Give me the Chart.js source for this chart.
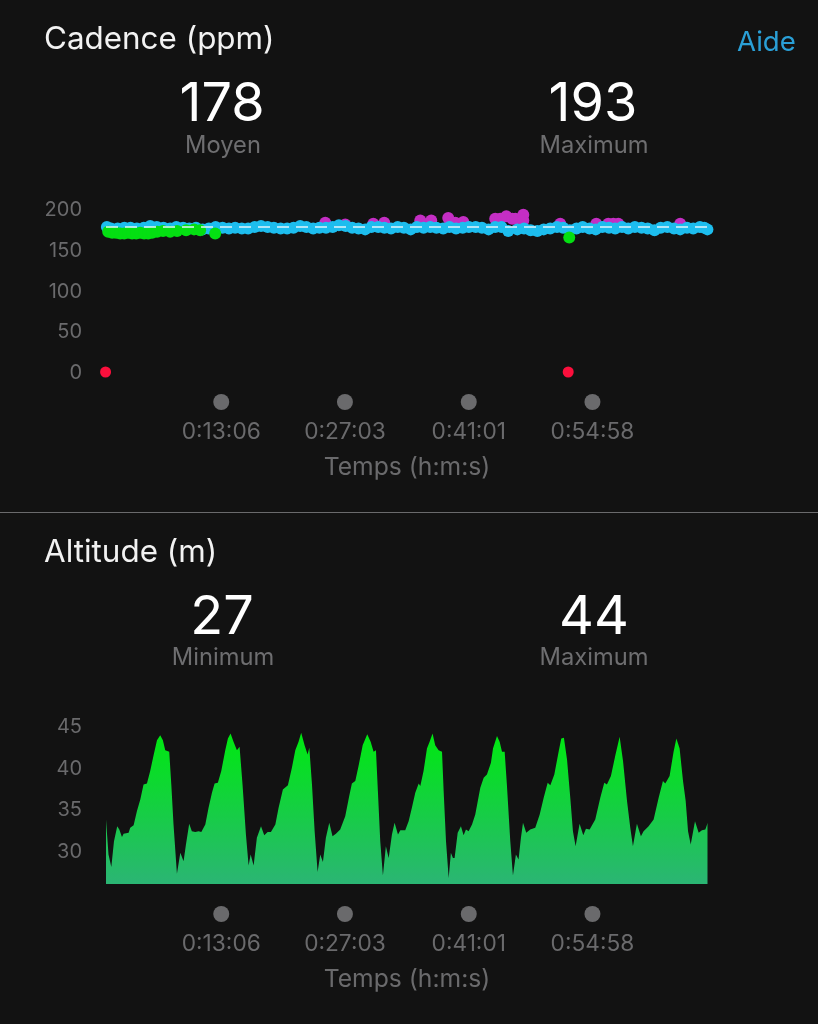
<!DOCTYPE html>
<html>
<head>
<meta charset="utf-8">
<script src="https://cdn.jsdelivr.net/npm/chart.js@4/dist/chart.umd.min.js"></script>
<style>
  html, body { margin: 0; padding: 0; background: #121212; }
  body { position: relative; width: 818px; height: 1024px; overflow: hidden; font-family: Inter, Roboto, sans-serif; }
  canvas { position: absolute; left: 0; }
  #cadence { top: 0; }
  #altitude { top: 513px; }
  #rule { position: absolute; left: 0; top: 512px; width: 818px; height: 1px; background: #6a6a6c; }
  .t { position: absolute; white-space: nowrap; z-index: 2; }
  .title { left: 44px; font-size: 31.4px; color: #f2f2f2; transform: translateY(-50%); }
  .big { font-size: 54px; color: #fff; transform: translate(-50%, -50%); }
  .sub { font-size: 23.7px; color: #6e6e70; transform: translate(-50%, -50%); }
</style>
</head>
<body>
<canvas id="cadence" width="818" height="512"></canvas>
<canvas id="altitude" width="818" height="511"></canvas>
<div id="rule"></div>

<div class="t title" style="top:38px">Cadence (ppm)</div>
<div class="t" style="left:737px;top:41px;font-size:27.6px;color:#2a9fd6;transform:translateY(-50%)">Aide</div>
<div class="t big" style="left:222px;top:101px">178</div>
<div class="t sub" style="left:223px;top:144px">Moyen</div>
<div class="t big" style="left:593px;top:101px">193</div>
<div class="t sub" style="left:594px;top:144px">Maximum</div>

<div class="t title" style="top:551px">Altitude (m)</div>
<div class="t big" style="left:222px;top:614px">27</div>
<div class="t sub" style="left:223px;top:656px">Minimum</div>
<div class="t big" style="left:594px;top:614px">44</div>
<div class="t sub" style="left:594px;top:656px">Maximum</div>

<script>
const timeTicks = [786, 1623, 2461, 3298]
const timeLabels = ['0:13:06', '0:27:03', '0:41:01', '0:54:58']
const cadenceTicks = [0, 50, 100, 150, 200]
const altitudeTicks = [30, 35, 40, 45]
const cadenceAverage = 178

const blueSec = [12, 40, 85, 130, 172, 215, 262, 305, 350, 395, 440, 482, 528, 570, 615, 660, 702, 748, 795, 838, 880, 925, 968, 1012, 1055, 1100, 1142, 1188, 1232, 1275, 1320, 1362, 1408, 1450, 1495, 1540, 1582, 1628, 1672, 1715, 1760, 1802, 1848, 1890, 1935, 1980, 2022, 2068, 2110, 2155, 2200, 2242, 2288, 2330, 2375, 2420, 2462, 2508, 2550, 2595, 2640, 2682, 2728, 2790, 2835, 2880, 2925, 2968, 3012, 3058, 3100, 3145, 3190, 3232, 3278, 3320, 3365, 3410, 3452, 3498, 3540, 3585, 3630, 3672, 3718, 3760, 3805, 3850, 3892, 3938, 3980, 4025, 4055, 4076]
const blueVal = [178, 176, 176, 177, 177, 176, 177, 179, 178, 177, 176, 178, 177, 176, 177, 175, 176, 178, 177, 176, 177, 176, 176, 178, 179, 178, 177, 176, 176, 177, 179, 178, 176, 177, 177, 178, 180, 179, 177, 176, 175, 178, 178, 177, 176, 178, 177, 175, 178, 177, 178, 177, 176, 178, 176, 177, 178, 178, 177, 175, 178, 178, 173, 175, 176, 174, 173, 175, 176, 178, 177, 174, 176, 178, 176, 175, 178, 177, 176, 178, 176, 178, 177, 176, 174, 177, 178, 176, 175, 177, 176, 178, 177, 175]

const purpleSec = [1490, 1625, 1815, 1889, 2133, 2207, 2322, 2370, 2424, 2640, 2674, 2715, 2755, 2776, 2830, 2830, 3080, 3324, 3405, 3439, 3473, 3892]
const purpleVal = [183, 181, 182, 183, 186, 186, 189, 183, 184, 188, 188, 191, 188, 188, 193, 186, 182, 182, 182, 182, 182, 182]

const greenSec = [21, 48, 75, 102, 129, 156, 183, 210, 237, 264, 291, 318, 352, 392, 440, 487, 548, 602, 643, 745, 3141]
const greenVal = [172, 171, 171, 170, 170, 171, 170, 170, 171, 170, 170, 171, 172, 173, 172, 173, 174, 175, 174, 170, 165]

const redSec = [3, 3134]
const redVal = [0, 0]

const altitudeSec = [6, 23, 42, 60, 82, 96, 114, 125, 159, 170, 193, 215, 238, 260, 283, 305, 328, 351, 373, 391, 407, 434, 448, 463, 486, 509, 531, 547, 569, 587, 610, 633, 651, 678, 700, 723, 741, 763, 786, 813, 831, 849, 869, 892, 910, 930, 953, 971, 985, 1005, 1027, 1055, 1077, 1100, 1122, 1152, 1174, 1203, 1237, 1264, 1287, 1309, 1327, 1350, 1370, 1382, 1400, 1418, 1438, 1456, 1474, 1494, 1517, 1539, 1562, 1591, 1625, 1652, 1670, 1693, 1715, 1743, 1774, 1797, 1817, 1833, 1846, 1862, 1880, 1900, 1919, 1941, 1959, 1982, 1998, 2031, 2054, 2076, 2099, 2122, 2133, 2155, 2178, 2196, 2216, 2234, 2257, 2280, 2291, 2307, 2325, 2340, 2354, 2365, 2386, 2408, 2426, 2442, 2460, 2483, 2505, 2539, 2562, 2584, 2611, 2625, 2652, 2670, 2686, 2704, 2719, 2742, 2760, 2780, 2798, 2814, 2828, 2850, 2877, 2911, 2941, 2968, 2995, 3013, 3040, 3069, 3087, 3105, 3126, 3148, 3166, 3184, 3211, 3236, 3254, 3279, 3317, 3351, 3378, 3396, 3423, 3453, 3482, 3505, 3532, 3554, 3572, 3599, 3626, 3644, 3678, 3712, 3746, 3775, 3791, 3820, 3847, 3866, 3888, 3911, 3929, 3945, 3963, 3992, 4017, 4039, 4062, 4078]
const altitudeVal = [33.8, 29.6, 28.1, 31.2, 33.0, 32.6, 31.7, 32.1, 32.2, 32.8, 33.1, 34.8, 36.2, 38.0, 38.1, 39.6, 41.5, 43.3, 43.9, 43.3, 42.1, 41.9, 38.0, 33.2, 27.3, 29.8, 28.8, 30.8, 33.3, 32.4, 32.3, 32.4, 32.3, 33.2, 35.2, 37.0, 38.1, 38.2, 39.6, 42.1, 43.5, 44.1, 43.1, 42.1, 42.5, 38.0, 32.0, 28.3, 29.6, 28.3, 31.6, 33.0, 31.9, 32.3, 32.3, 33.2, 35.2, 37.4, 37.9, 40.0, 42.1, 43.1, 44.2, 42.7, 41.6, 42.4, 38.0, 32.4, 27.5, 29.6, 28.7, 31.6, 33.4, 31.8, 32.1, 32.6, 34.2, 36.6, 38.1, 38.4, 40.2, 42.7, 44.0, 43.1, 41.9, 42.1, 37.2, 31.2, 27.1, 30.6, 29.2, 32.0, 33.4, 32.0, 32.5, 32.5, 33.6, 35.2, 37.0, 38.1, 37.8, 39.6, 42.3, 43.1, 44.1, 42.7, 42.1, 41.9, 37.2, 31.2, 26.8, 29.8, 29.2, 29.2, 32.2, 33.0, 31.9, 32.6, 32.4, 33.2, 34.4, 37.6, 38.8, 39.2, 40.6, 42.3, 43.8, 43.1, 41.9, 41.9, 38.0, 31.2, 27.1, 29.6, 29.0, 31.6, 33.4, 32.2, 32.6, 32.8, 34.4, 36.4, 38.2, 37.9, 39.2, 41.9, 43.5, 43.6, 41.0, 36.4, 32.4, 30.6, 33.3, 31.9, 32.7, 32.6, 33.8, 36.4, 38.2, 38.0, 39.0, 41.5, 43.7, 40.8, 36.0, 32.8, 30.6, 33.3, 31.8, 32.4, 33.0, 33.8, 36.4, 38.4, 38.1, 39.0, 41.9, 43.5, 42.3, 38.4, 36.0, 32.4, 30.8, 33.6, 32.2, 32.5, 32.6, 33.4]

const zip = (xs, ys) => xs.map((x, i) => ({ x: x, y: ys[i] }))
const tickColor = '#6a6a6c'

// grey dots under the axis, one per time tick
const tickDots = {
  id: 'tickDots',
  afterDraw(chart) {
    const c = chart.ctx
    const y = chart.chartArea.bottom + 30
    c.save()
    c.fillStyle = '#6a6a6c'
    timeTicks.forEach(v => {
      c.beginPath()
      c.arc(chart.scales.x.getPixelForValue(v), y, 8, 0, Math.PI * 2)
      c.fill()
    })
    c.restore()
  }
}

function xAxis() {
  return {
    type: 'linear',
    min: 6,
    max: 4080,
    grid: { display: false, drawTicks: false },
    border: { display: false },
    afterBuildTicks: s => { s.ticks = timeTicks.map(v => ({ value: v })) },
    afterFit: s => { s.height = 140 },
    ticks: {
      autoSkip: false,
      maxRotation: 0,
      padding: 47,
      color: tickColor,
      font: { family: 'Inter', size: 22.7 },
      callback: (v, i) => timeLabels[i]
    },
    title: {
      display: true,
      text: 'Temps (h:m:s)',
      color: tickColor,
      font: { family: 'Inter', size: 24.7 },
      padding: { top: 8, bottom: 30 }
    }
  }
}

function yAxis(min, max, ticks) {
  return {
    min: min,
    max: max,
    grid: { display: false, drawTicks: false },
    border: { display: false },
    afterBuildTicks: s => { s.ticks = ticks.map(v => ({ value: v })) },
    afterFit: s => { s.width = 106 },
    ticks: {
      padding: 24,
      labelOffset: 1,
      color: tickColor,
      font: { family: 'Inter', size: 20 }
    }
  }
}

const baseOptions = (y) => ({
  responsive: false,
  animation: false,
  layout: { padding: { top: y, right: 110, left: 0, bottom: 0 } },
  plugins: { legend: { display: false }, tooltip: { enabled: false } }
})

new Chart(document.getElementById('cadence'), {
  type: 'scatter',
  data: {
    datasets: [
      { data: zip([6, 4078], [cadenceAverage, cadenceAverage]), showLine: true, pointRadius: 0, borderColor: '#dff4fb', borderWidth: 1.5, borderDash: [12, 7] },
      { data: zip(redSec, redVal), pointRadius: 5.5, backgroundColor: '#fb0f3c', borderWidth: 0, clip: false },
      { data: zip(greenSec, greenVal), pointRadius: 6, backgroundColor: '#04df12', borderWidth: 0, clip: false },
      { data: zip(blueSec, blueVal), pointRadius: 6, backgroundColor: '#1dbdee', borderWidth: 0, clip: false },
      { data: zip(purpleSec, purpleVal), pointRadius: 6, backgroundColor: '#c42ec4', borderWidth: 0, clip: false }
    ]
  },
  options: Object.assign(baseOptions(209), {
    scales: { x: xAxis(), y: yAxis(0, 200, cadenceTicks) }
  }),
  plugins: [tickDots]
})

new Chart(document.getElementById('altitude'), {
  type: 'line',
  data: {
    datasets: [{
      data: zip(altitudeSec, altitudeVal),
      pointRadius: 0,
      borderWidth: 0,
      tension: 0,
      fill: 'start',
      backgroundColor: ctx => {
        const a = ctx.chart.chartArea
        if (!a) return '#1fc84a'
        const g = ctx.chart.ctx.createLinearGradient(0, a.top + 10, 0, a.bottom)
        g.addColorStop(0, '#00e812')
        g.addColorStop(1, '#2bb574')
        return g
      }
    }]
  },
  options: Object.assign(baseOptions(213), {
    scales: { x: xAxis(), y: yAxis(26.07, 45, altitudeTicks) }
  }),
  plugins: [tickDots]
})
</script>
</body>
</html>
